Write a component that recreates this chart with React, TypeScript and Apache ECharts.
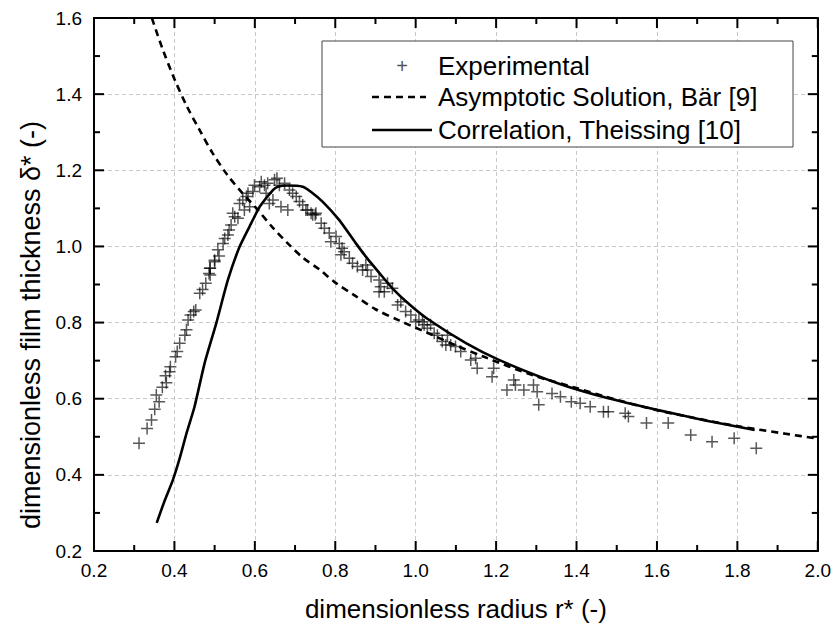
import React, { useEffect, useRef } from "react";
import * as echarts from "echarts";

// Experimental data (r*, delta*)
const expX = [
  0.312, 0.332, 0.343, 0.351, 0.362, 0.355, 0.370, 0.380, 0.378, 0.388, 0.390, 0.403, 0.407, 0.413, 0.426,
  0.430, 0.434, 0.440, 0.448, 0.453, 0.463, 0.470, 0.478, 0.486, 0.489, 0.500, 0.489, 0.488, 0.500, 0.511,
  0.508, 0.521, 0.525, 0.533, 0.536, 0.541, 0.550, 0.558, 0.545, 0.562, 0.570, 0.579, 0.574, 0.587, 0.583,
  0.595, 0.599, 0.612, 0.616, 0.624, 0.632, 0.628, 0.636, 0.645, 0.649, 0.655, 0.661, 0.665, 0.674, 0.682,
  0.686, 0.694, 0.703, 0.711, 0.719, 0.731, 0.740, 0.750, 0.727, 0.744, 0.752, 0.765, 0.773, 0.785, 0.789,
  0.802, 0.810, 0.817, 0.822, 0.814, 0.835, 0.843, 0.855, 0.868, 0.880, 0.876, 0.889, 0.909, 0.913, 0.909,
  0.922, 0.930, 0.942, 0.955, 0.963, 0.975, 0.988, 1.000, 1.008, 1.021, 1.017, 1.029, 1.037, 1.046, 1.054,
  1.079, 1.066, 1.075, 1.087, 1.099, 1.112, 1.137, 1.149, 1.153, 1.194, 1.190, 1.244, 1.248, 1.227, 1.269,
  1.293, 1.302, 1.306, 1.339, 1.360, 1.387, 1.409, 1.434, 1.467, 1.479, 1.521, 1.529, 1.574, 1.628, 1.684,
  1.737, 1.792, 1.847
];
const expY = [
  0.483, 0.522, 0.544, 0.572, 0.592, 0.610, 0.630, 0.642, 0.660, 0.671, 0.684, 0.710, 0.724, 0.746, 0.767,
  0.781, 0.807, 0.820, 0.829, 0.833, 0.877, 0.887, 0.903, 0.929, 0.943, 0.960, 0.925, 0.943, 0.964, 0.975,
  0.991, 1.008, 1.021, 1.030, 1.043, 1.056, 1.078, 1.074, 1.087, 1.113, 1.122, 1.131, 1.096, 1.104, 1.140,
  1.144, 1.161, 1.157, 1.170, 1.161, 1.166, 1.140, 1.113, 1.122, 1.175, 1.179, 1.161, 1.104, 1.166, 1.096,
  1.148, 1.140, 1.131, 1.118, 1.109, 1.096, 1.087, 1.083, 1.096, 1.083, 1.087, 1.061, 1.048, 1.035, 1.012,
  1.026, 1.008, 0.995, 0.986, 0.978, 0.969, 0.956, 0.947, 0.938, 0.938, 0.951, 0.921, 0.912, 0.894, 0.881,
  0.881, 0.903, 0.890, 0.846, 0.855, 0.829, 0.820, 0.802, 0.807, 0.794, 0.802, 0.785, 0.794, 0.772, 0.767,
  0.767, 0.750, 0.741, 0.741, 0.737, 0.724, 0.702, 0.706, 0.680, 0.680, 0.658, 0.649, 0.636, 0.623, 0.623,
  0.636, 0.618, 0.584, 0.614, 0.605, 0.592, 0.588, 0.579, 0.566, 0.566, 0.562, 0.553, 0.536, 0.536, 0.505,
  0.487, 0.496, 0.470
];

// Asymptotic solution, Bär [9]
const asymX = [
  0.344, 0.37, 0.4, 0.43, 0.463, 0.495, 0.53, 0.569, 0.604, 0.644, 0.68, 0.72, 0.76, 0.8, 0.85, 0.9, 0.96,
  1.04, 1.1, 1.17, 1.29, 1.4, 1.5, 1.6, 1.7, 1.8, 1.92, 2.0
];
const asymY = [
  1.6, 1.52, 1.44, 1.37, 1.305, 1.245, 1.19, 1.14, 1.1, 1.05, 1.01, 0.97, 0.94, 0.905, 0.87, 0.835, 0.805,
  0.768, 0.74, 0.71, 0.662, 0.628, 0.597, 0.57, 0.548, 0.528, 0.508, 0.495
];

// Correlation, Theissing [10]
const corrX = [
  0.356, 0.375, 0.396, 0.413, 0.43, 0.45, 0.475, 0.504, 0.533, 0.562, 0.591, 0.612, 0.645, 0.657, 0.68,
  0.719, 0.74, 0.769, 0.81, 0.85, 0.877, 0.917, 0.942, 0.984, 1.029, 1.125, 1.207, 1.355, 1.479, 1.603,
  1.72, 1.843
];
const corrY = [
  0.274, 0.33, 0.386, 0.443, 0.509, 0.579, 0.693, 0.798, 0.912, 0.999, 1.061, 1.104, 1.148, 1.157, 1.16,
  1.157, 1.143, 1.117, 1.069, 1.01, 0.972, 0.921, 0.89, 0.848, 0.81, 0.746, 0.702, 0.64, 0.601, 0.57,
  0.543, 0.518
];

const xTicks = ["0.2", "0.4", "0.6", "0.8", "1.0", "1.2", "1.4", "1.6", "1.8", "2.0"];
const yTicks = ["0.2", "0.4", "0.6", "0.8", "1.0", "1.2", "1.4", "1.6"];
const legendNames = ["Experimental", "Asymptotic Solution, Bär [9]", "Correlation, Theissing [10]"];

const FONT = "'Liberation Sans', Arial, sans-serif";
const X_MIN = 0.2, X_MAX = 2.0, Y_MIN = 0.2, Y_MAX = 1.6, STEP = 0.2;

export default function App() {
  const ref = useRef<HTMLDivElement>(null);
  useEffect(() => {
    if (!ref.current) return;
    const chart = echarts.init(ref.current, null, { renderer: "svg" });
    const grid = { lineStyle: { color: "#c8c8c8", type: [4, 3], width: 1 } };
    const line = { show: true, onZero: false, lineStyle: { color: "#000", width: 2 } };

    // Inside tick marks (major every STEP, minor halfway), positioned through the axes' scales.
    const tickData: number[][] = [];
    const nx = Math.round((X_MAX - X_MIN) / (STEP / 2));
    for (let i = 0; i <= nx; i++) tickData.push([0, +(X_MIN + (i * STEP) / 2).toFixed(3), i % 2 === 0 ? 1 : 0]);
    const ny = Math.round((Y_MAX - Y_MIN) / (STEP / 2));
    for (let i = 0; i <= ny; i++) tickData.push([1, +(Y_MIN + (i * STEP) / 2).toFixed(3), i % 2 === 0 ? 1 : 0]);

    const tickStyle = { stroke: "#000", lineWidth: 2 };
    const renderTick = (_params: any, api: any) => {
      const dir = api.value(0);
      const v = api.value(1);
      const len = api.value(2) ? 10 : 6;
      if (dir === 0) {
        const a = api.coord([v, Y_MIN]);
        const b = api.coord([v, Y_MAX]);
        return {
          type: "group",
          children: [
            { type: "line", shape: { x1: a[0], y1: a[1], x2: a[0], y2: a[1] - len }, style: tickStyle },
            { type: "line", shape: { x1: b[0], y1: b[1], x2: b[0], y2: b[1] + len }, style: tickStyle },
          ],
        };
      }
      const a = api.coord([X_MIN, v]);
      const b = api.coord([X_MAX, v]);
      return {
        type: "group",
        children: [
          { type: "line", shape: { x1: a[0], y1: a[1], x2: a[0] + len, y2: a[1] }, style: tickStyle },
          { type: "line", shape: { x1: b[0], y1: b[1], x2: b[0] - len, y2: b[1] }, style: tickStyle },
        ],
      };
    };

    const option: any = {
      animation: false,
      backgroundColor: "#fff",
      grid: { left: 94, right: 14, top: 18, bottom: 79, containLabel: false },
      xAxis: [
        {
          type: "value",
          min: X_MIN,
          max: X_MAX,
          interval: STEP,
          position: "bottom",
          name: "dimensionless radius r* (-)",
          nameLocation: "middle",
          nameGap: 45,
          nameTextStyle: { fontFamily: FONT, fontSize: 26, color: "#000" },
          axisLine: line,
          axisTick: { show: false },
          axisLabel: {
            fontFamily: FONT,
            fontSize: 19,
            color: "#000",
            margin: 10,
            formatter: (v: number) => xTicks[Math.round((v - X_MIN) / STEP)] ?? v.toFixed(1),
          },
          splitLine: { show: true, ...grid },
        },
        {
          type: "value",
          min: X_MIN,
          max: X_MAX,
          interval: STEP,
          position: "top",
          axisLine: line,
          axisTick: { show: false },
          axisLabel: { show: false },
          splitLine: { show: false },
        },
      ],
      yAxis: [
        {
          type: "value",
          min: Y_MIN,
          max: Y_MAX,
          interval: STEP,
          position: "left",
          axisLine: line,
          axisTick: { show: false },
          axisLabel: {
            fontFamily: FONT,
            fontSize: 19,
            color: "#000",
            margin: 12,
            formatter: (v: number) => yTicks[Math.round((v - Y_MIN) / STEP)] ?? v.toFixed(1),
          },
          splitLine: { show: true, ...grid },
        },
        {
          type: "value",
          min: Y_MIN,
          max: Y_MAX,
          interval: STEP,
          position: "right",
          axisLine: line,
          axisTick: { show: false },
          axisLabel: { show: false },
          splitLine: { show: false },
        },
      ],
      series: [
        {
          name: "ticks",
          type: "custom",
          xAxisIndex: 0,
          yAxisIndex: 0,
          data: tickData,
          encode: { x: 1, y: 1 },
          renderItem: renderTick,
          silent: true,
          clip: false,
          z: 6,
        },
        {
          name: legendNames[0],
          type: "scatter",
          xAxisIndex: 0,
          yAxisIndex: 0,
          data: expX.map((x, i) => [x, expY[i]]),
          symbol: "path://M-6,0L6,0M0,-6L0,6",
          symbolSize: 12,
          itemStyle: { color: "none", borderColor: "rgba(0,0,0,0.82)", borderWidth: 1.5 },
          z: 3,
        },
        {
          name: legendNames[1],
          type: "line",
          xAxisIndex: 0,
          yAxisIndex: 0,
          data: asymX.map((x, i) => [x, asymY[i]]),
          showSymbol: false,
          smooth: 0.3,
          lineStyle: { color: "#000", width: 2.6, type: [7, 5] },
          z: 4,
        },
        {
          name: legendNames[2],
          type: "line",
          xAxisIndex: 0,
          yAxisIndex: 0,
          data: corrX.map((x, i) => [x, corrY[i]]),
          showSymbol: false,
          smooth: 0.2,
          lineStyle: { color: "#000", width: 2.6 },
          z: 4,
        },
      ],
      graphic: [
        {
          type: "text",
          x: 31,
          y: 325,
          rotation: Math.PI / 2,
          style: {
            text: "dimensionless film thickness δ* (-)",
            fontFamily: FONT,
            fontSize: 27,
            fill: "#000",
            align: "center",
            verticalAlign: "middle",
          },
        },
        {
          type: "rect",
          shape: { x: 322, y: 41, width: 471, height: 106 },
          style: { fill: "#fff", stroke: "#444", lineWidth: 1 },
          z: 10,
        },
        {
          type: "text",
          x: 402,
          y: 66,
          style: { text: "+", fontFamily: FONT, fontSize: 20, fill: "#555", align: "center", verticalAlign: "middle" },
          z: 11,
        },
        {
          type: "line",
          shape: { x1: 372, y1: 97, x2: 426, y2: 97 },
          style: { stroke: "#000", lineWidth: 2.6, lineDash: [7, 5] },
          z: 11,
        },
        {
          type: "line",
          shape: { x1: 372, y1: 130, x2: 432, y2: 130 },
          style: { stroke: "#000", lineWidth: 2.6 },
          z: 11,
        },
        ...legendNames.map((n, i) => ({
          type: "text",
          x: 438,
          y: [66, 97, 130][i],
          style: { text: n, fontFamily: FONT, fontSize: 26, fill: "#000", align: "left", verticalAlign: "middle" },
          z: 11,
        })),
      ],
    };
    chart.setOption(option);
    return () => chart.dispose();
  }, []);
  return (
    <div
      ref={ref}
      style={{ position: "fixed", left: 0, top: 0, width: 834, height: 630, background: "#fff" }}
    />
  );
}
